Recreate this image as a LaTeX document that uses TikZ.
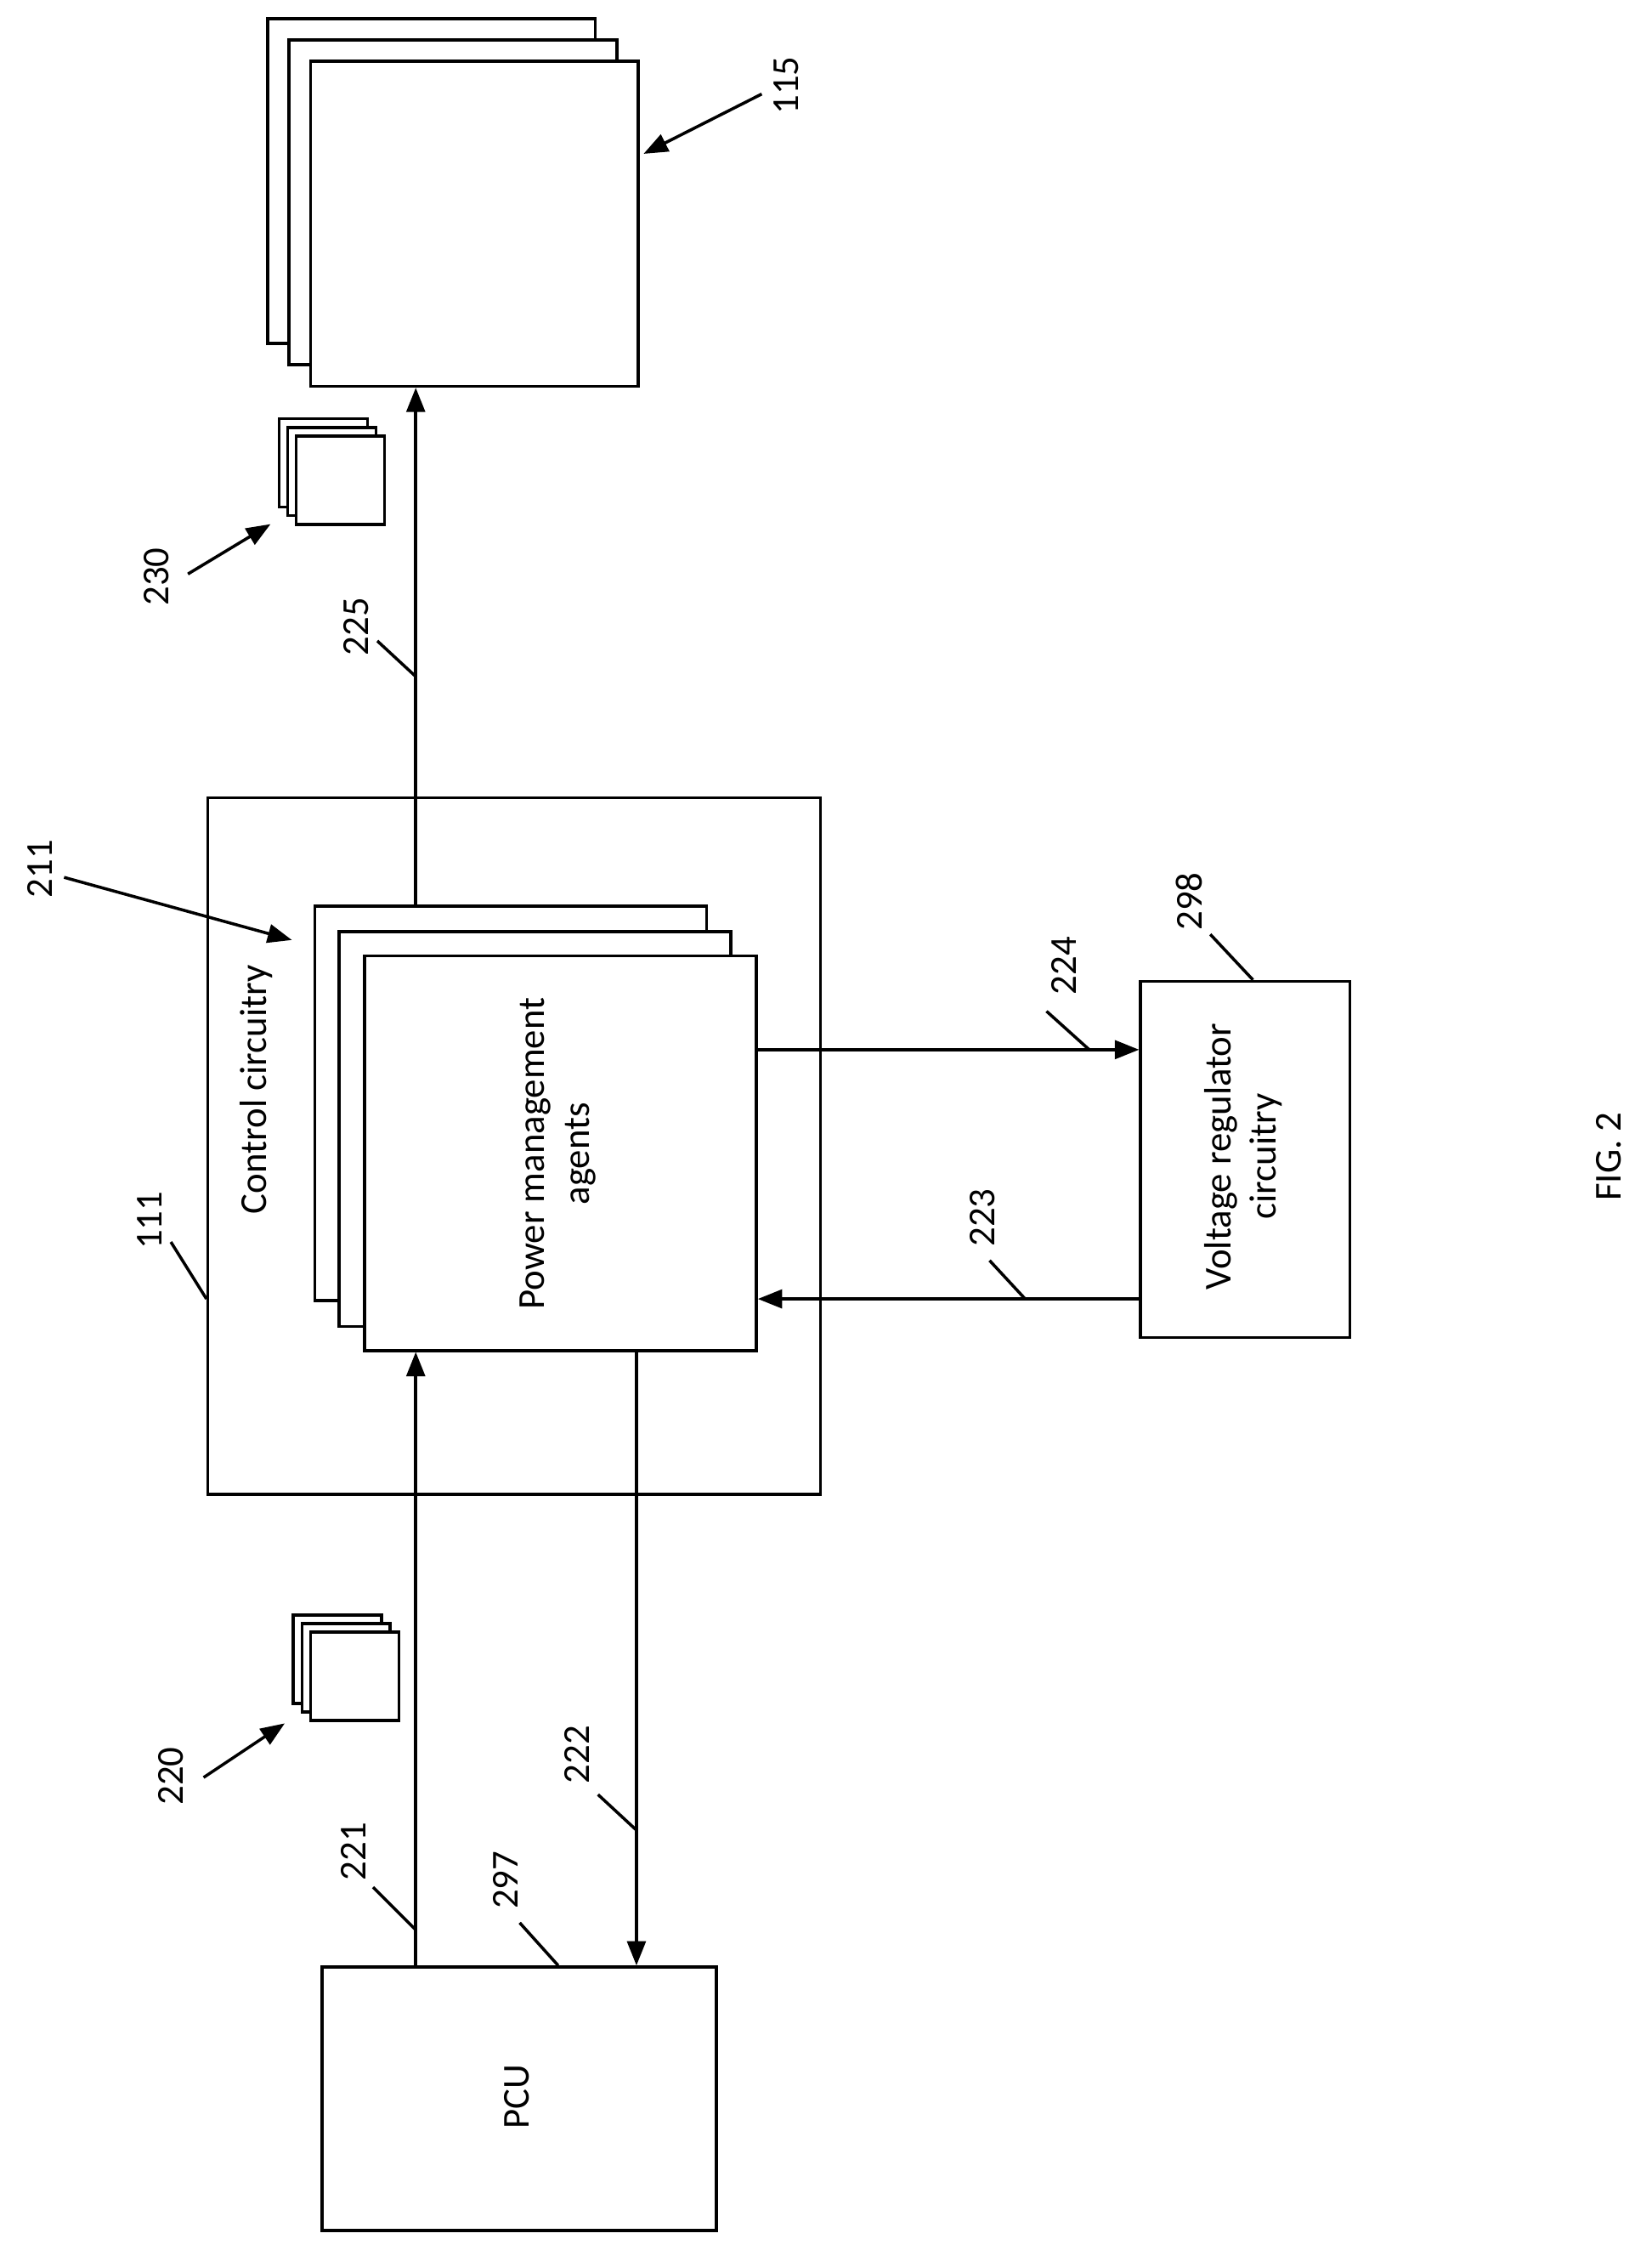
\documentclass[tikz,border=0pt]{standalone}
\usepackage{fontspec}
\setmainfont{Carlito}
\usetikzlibrary{arrows.meta}
\usetikzlibrary{calc}
\usetikzlibrary{positioning}
\tikzset{>={Triangle[length=0.17cm,width=0.13cm]}}
\tikzset{
  box/.style = {draw, line width=0.6pt, fill=white, anchor=north west, inner sep=0pt},
  lbl/.style = {rotate=90, font=\fontsize{7.6}{9}\selectfont},
  lead/.style = {line width=0.6pt},
  flow/.style = {->, line width=0.6pt}
}
\newcommand{\sheet}[5]{% name, x, y, w, h
  \node[box, minimum width=#4cm, minimum height=#5cm] (#1) at (#2,#3) {};}

\begin{document}
\begin{tikzpicture}[x=0.01cm, y=-0.01cm]
  \useasboundingbox (0,0) rectangle (1160,1584);

  % stack 115
  \sheet{sA}{187}{12}{2.30}{2.28}
  \sheet{sB}{202}{27}{2.30}{2.28}
  \sheet{sC}{217}{42}{2.30}{2.28}
  \node[lbl] (n115) at (552,60) {115};
  \coordinate (t115) at (535,66);
  \draw[flow] (t115) -- (452,108);

  % small stack 230
  \sheet{mA}{195}{293}{0.62}{0.62}
  \sheet{mB}{201}{299}{0.62}{0.62}
  \sheet{mC}{207}{305}{0.62}{0.62}
  \node[lbl] (n230) at (110,405) {230};
  \coordinate (t230) at (132,403);
  \draw[flow] (t230) -- (190,368);

  % control circuitry
  \sheet{ctl}{145}{559}{4.30}{4.89}
  \node[lbl] (tctl) at (180,765) {Control circuitry};
  \node[lbl] (n111) at (105,857) {111};
  \draw[lead] (120,872) -- (ctl.north west |- 0,912);

  % power management agents
  \sheet{pA}{220}{635}{2.75}{2.77}
  \sheet{pB}{237}{653}{2.75}{2.77}
  \sheet{pC}{255}{670}{2.75}{2.77}
  \node[lbl, align=center] (tpma) at (392,810) {Power management\\agents};
  \node[lbl] (n211) at (28,610) {211};
  \coordinate (t211) at (45,616);
  \draw[flow] (t211) -- (205,660);

  % voltage regulator
  \sheet{vr}{800}{688}{1.47}{2.50}
  \node[lbl, align=center] (tvr) at (873,812) {Voltage regulator\\circuitry};
  \node[lbl] (n298) at (835,633) {298};
  \draw[lead] (850,656) -- (880,688);

  % PCU
  \sheet{pcu}{225}{1380}{2.77}{1.85}
  \node[lbl] (tpcu) at (363,1472) {PCU};
  \node[lbl] (n297) at (355,1320) {297};
  \draw[lead] (365,1350) -- (392,1380);

  % small stack 220
  \sheet{kA}{205}{1133}{0.62}{0.62}
  \sheet{kB}{211}{1139}{0.62}{0.62}
  \sheet{kC}{217}{1145}{0.62}{0.62}
  \node[lbl] (n220) at (120,1247) {220};
  \coordinate (t220) at (143,1248);
  \draw[flow] (t220) -- (200,1210);

  % connectors
  \coordinate (o225) at ($(pA.north west)+(72,0)$);
  \draw[flow] (o225) -- (o225 |- sC.south);
  \node[lbl] (n225) at (250,440) {225};
  \draw[lead] (265,450) -- (292,475);

  \coordinate (o224) at (pC.east |- 0,737);
  \draw[flow] (o224) -- (o224 -| vr.west);
  \node[lbl] (n224) at (747,678) {224};
  \draw[lead] (735,710) -- (765,737);

  \coordinate (o223) at (vr.west |- 0,912);
  \draw[flow] (o223) -- (o223 -| pC.east);
  \node[lbl] (n223) at (690,855) {223};
  \draw[lead] (695,885) -- (720,912);

  \coordinate (o221) at ($(pcu.north west)+(67,0)$);
  \draw[flow] (o221) -- (o221 |- pC.south);
  \node[lbl] (n221) at (248,1300) {221};
  \draw[lead] (262,1325) -- (292,1355);

  \coordinate (o222) at ($(pC.south west)+(192,0)$);
  \draw[flow] (o222) -- (o222 |- pcu.north);
  \node[lbl] (n222) at (405,1232) {222};
  \draw[lead] (420,1260) -- (447,1285);

  \node[lbl] (fig) at (1130,812) {FIG. 2};
\end{tikzpicture}
\end{document}
